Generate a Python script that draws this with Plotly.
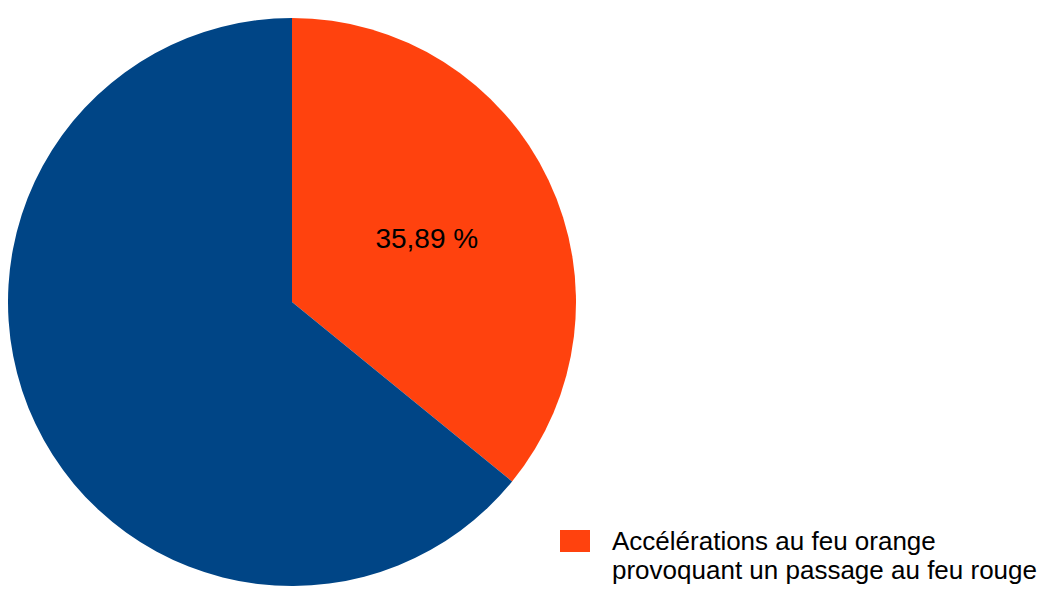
import plotly.graph_objects as go

# slice values (percent)
legend_lines = ["Accélérations au feu orange", "provoquant un passage au feu rouge"]
labels = [" ".join(legend_lines), "Autres"]
values = [35.89, 64.11]
colors = ["#ff420e", "#004586"]
texts = ["%{value:.2f} %", ""]

W, H = 1050, 593
OFF = 8  # page body margin, positions below are in page pixels


def px(x):
    return (x - OFF) / W


def py(y):
    return 1 - (y - OFF) / H


cx, cy, r = 292, 302, 284

fig = go.Figure()
fig.add_trace(go.Pie(
    labels=labels,
    values=values,
    sort=False,
    direction="clockwise",
    rotation=0,
    marker=dict(colors=colors, line=dict(width=0)),
    texttemplate=texts,
    textposition="inside",
    insidetextorientation="horizontal",
    textfont=dict(family="Liberation Sans, Arial, sans-serif", size=28, color="black"),
    hoverinfo="label+percent",
    showlegend=False,
    domain=dict(x=[max(px(cx - r), 0), px(cx + r)], y=[py(cy + r), py(cy - r)]),
))

# legend drawn by hand: only the first entry is visible in the reference
fig.add_shape(type="rect", xref="paper", yref="paper",
              x0=px(560), x1=px(590), y0=py(552), y1=py(530),
              fillcolor=colors[0], line=dict(width=0))
for i, line in enumerate(legend_lines):
    fig.add_annotation(xref="paper", yref="paper", x=px(610), y=py(541 + 29 * i),
                       xanchor="left", yanchor="middle", align="left",
                       text=line, showarrow=False,
                       font=dict(family="Liberation Sans, Arial, sans-serif", size=26, color="black"))

fig.update_layout(
    width=W, height=H,
    margin=dict(l=0, r=0, t=0, b=0),
    paper_bgcolor="white",
    separators=", ",
    uniformtext=dict(minsize=28, mode="show"),
)

fig.write_html("out.html")
